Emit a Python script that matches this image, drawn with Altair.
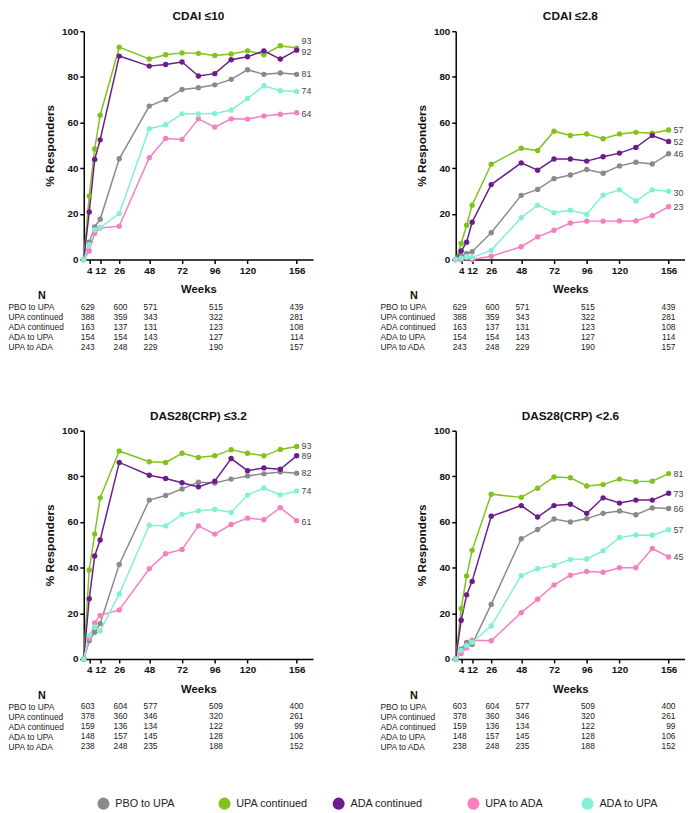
import altair as alt
import pandas as pd

FONT = "Liberation Sans"

weeks = [0, 4, 8, 12, 26, 48, 60, 72, 84, 96, 108, 120, 132, 144, 156]
groups = ["PBO to UPA", "UPA continued", "ADA continued", "UPA to ADA", "ADA to UPA"]
colors = ["#8a8a8a", "#7fc31c", "#6b1d8a", "#f77fc0", "#82f0d5"]
x_ticks = [4, 12, 26, 48, 72, 96, 120, 156]

# legend: labels as printed, and where each entry sits along the legend row (px)
legend_labels = ["PBO to UPA", "UPA continued", "ADA continued", "UPA to  ADA", "ADA to UPA"]
legend_x = [20, 143, 259, 396, 512]

# ---- CDAI <=10
cdai10_pbo = [0, 7.6, 14.3, 17.6, 44.1, 67.2, 70.1, 74.5, 75.2, 76.5, 78.9, 83.1, 81.1, 81.7, 81.1]
cdai10_upa = [0, 27.8, 48.4, 63.2, 93.0, 87.8, 89.7, 90.5, 90.3, 89.4, 90.0, 91.4, 89.7, 93.6, 92.6]
cdai10_ada = [0, 20.8, 43.8, 52.4, 89.1, 84.7, 85.4, 86.5, 80.4, 81.4, 87.5, 88.8, 91.4, 87.8, 91.7]
cdai10_upa_ada = [0, 3.7, 11.5, 13.8, 14.6, 44.6, 53.0, 52.6, 61.6, 58.0, 61.6, 61.5, 62.9, 63.6, 64.3]
cdai10_ada_upa = [0, 6.5, 13.0, 14.0, 20.1, 57.3, 59.0, 63.8, 63.8, 63.9, 65.5, 70.5, 76.1, 73.9, 73.6]
cdai10_end = [81, 93, 92, 64, 74]
cdai10_end_y = [81.1, 95.6, 90.7, 63.9, 73.6]

# ---- CDAI <=2.8
cdai28_pbo = [0, 1.6, 2.6, 3.4, 11.7, 28.1, 30.7, 35.4, 37.0, 39.4, 37.8, 41.0, 42.6, 41.8, 46.3]
cdai28_upa = [0, 7.0, 15.0, 23.8, 41.7, 48.7, 47.7, 56.2, 54.3, 55.0, 52.9, 55.0, 55.7, 55.3, 56.7]
cdai28_ada = [0, 3.7, 7.6, 16.3, 32.8, 42.3, 39.1, 44.0, 44.0, 43.1, 45.0, 46.6, 49.1, 54.3, 51.7]
cdai28_upa_ada = [0, 0.0, 0.7, 0.0, 1.4, 5.6, 9.9, 12.8, 16.0, 16.8, 16.8, 16.9, 16.9, 19.2, 23.1]
cdai28_ada_upa = [0, 0.6, 1.3, 0.9, 4.0, 18.3, 23.8, 20.5, 21.6, 19.8, 28.2, 30.5, 25.6, 30.5, 29.9]
cdai28_end = [46, 57, 52, 23, 30]
cdai28_end_y = [46.3, 56.7, 51.3, 22.8, 29.2]

# ---- DAS28(CRP) <=3.2
das32_pbo = [0, 8.0, 11.7, 15.5, 41.4, 69.6, 71.6, 74.5, 77.4, 77.1, 78.8, 80.2, 81.1, 81.9, 81.4]
das32_upa = [0, 39.0, 54.7, 70.6, 91.1, 86.4, 86.1, 90.1, 88.3, 89.0, 91.7, 90.1, 89.0, 91.8, 93.1]
das32_ada = [0, 26.4, 45.1, 52.1, 86.1, 80.5, 79.1, 77.2, 75.4, 77.9, 87.8, 82.5, 83.7, 83.1, 89.0]
das32_upa_ada = [0, 9.0, 15.8, 19.1, 21.5, 39.5, 46.1, 48.0, 58.3, 54.7, 58.9, 61.7, 61.0, 66.3, 60.6]
das32_ada_upa = [0, 10.3, 14.0, 12.3, 28.5, 58.6, 58.3, 63.3, 64.9, 65.5, 64.2, 71.8, 74.9, 71.9, 73.6]
das32_end = [82, 93, 89, 61, 74]
das32_end_y = [81.4, 93.3, 88.8, 60.2, 73.6]

# ---- DAS28(CRP) <2.6
das26_pbo = [0, 4.3, 7.2, 6.4, 23.9, 52.7, 56.7, 61.3, 60.0, 61.5, 63.8, 64.8, 63.2, 66.2, 65.9]
das26_upa = [0, 22.1, 36.4, 47.6, 72.2, 70.8, 74.8, 79.7, 79.4, 75.8, 76.4, 78.8, 77.7, 77.9, 81.2]
das26_ada = [0, 17.0, 28.1, 34.0, 62.5, 67.2, 62.2, 67.2, 67.8, 63.8, 70.6, 68.3, 69.6, 69.6, 72.6]
das26_upa_ada = [0, 2.4, 4.9, 8.2, 8.0, 20.3, 26.2, 32.4, 36.7, 38.3, 38.0, 40.0, 40.0, 48.4, 44.7]
das26_ada_upa = [0, 3.7, 5.9, 7.3, 14.5, 36.5, 39.5, 41.0, 43.6, 43.8, 47.4, 53.2, 54.3, 54.2, 56.6]
das26_end = [66, 81, 73, 45, 57]
das26_end_y = [65.9, 81.1, 72.3, 44.7, 56.4]

# ---- N at risk tables
table_rows = ["PBO to UPA", "UPA continued", "ADA continued", "ADA to UPA", "UPA to ADA"]
table_cols = [8, 32, 54, 102, 161]  # week positions where the columns end
n_cdai = [
    [629, 600, 571, 515, 439],
    [388, 359, 343, 322, 281],
    [163, 137, 131, 123, 108],
    [154, 154, 143, 127, 114],
    [243, 248, 229, 190, 157],
]
n_das = [
    [603, 604, 577, 509, 400],
    [378, 360, 346, 320, 261],
    [159, 136, 134, 122, 99],
    [148, 157, 145, 128, 106],
    [238, 248, 235, 188, 152],
]

W, H = 233, 232

XSCALE = alt.Scale(domain=[0, 168], nice=False, zero=True)
YSCALE = alt.Scale(domain=[0, 100], nice=False)
CSCALE = alt.Scale(domain=groups, range=colors)
XAXIS = alt.Axis(values=x_ticks, title="Weeks", grid=False, tickSize=4,
                 labelPadding=2, titlePadding=9, labelFontWeight="bold",
                 labelFontSize=10, titleFontSize=11.5, titleFontWeight="bold",
                 labelFlush=False, labelOverlap=False, labelBound=False)
YAXIS = alt.Axis(values=[0, 20, 40, 60, 80, 100], title="% Responders",
                 grid=False, tickSize=4, labelPadding=2, titlePadding=5,
                 labelFontWeight="bold", labelFontSize=10, labelOverlap=False,
                 titleFontSize=12, titleFontWeight="bold")


def panel(title, series, ends, ends_y, counts):
    recs = []
    for g, vals in zip(groups, series):
        for w, v in zip(weeks, vals):
            recs.append({"week": w, "value": v, "group": g})
    df = pd.DataFrame(recs)
    xenc = alt.X("week:Q", scale=XSCALE, axis=XAXIS)
    yenc = alt.Y("value:Q", scale=YSCALE, axis=YAXIS)
    line = alt.Chart(df).mark_line(strokeWidth=1.5).encode(
        x=xenc, y=yenc, color=alt.Color("group:N", scale=CSCALE, legend=None),
    )
    pts = alt.Chart(df).mark_circle(size=30, opacity=1).encode(
        x=xenc, y=yenc, color=alt.Color("group:N", scale=CSCALE, legend=None),
    )
    edf = pd.DataFrame({"week": [156] * len(ends), "value": ends_y, "label": ends})
    txt = alt.Chart(edf).mark_text(align="left", dx=5, fontSize=9, color="#444", font=FONT).encode(
        x=xenc, y=yenc, text="label:N"
    )
    plot = alt.layer(line, pts, txt).properties(
        width=W, height=H,
        title=alt.TitleParams(title, fontSize=12, fontWeight="bold", offset=3, anchor="middle", font=FONT),
    )
    trecs = []
    for r, row in zip(table_rows, counts):
        for c, n in zip(table_cols, row):
            trecs.append({"row": r, "col": c, "n": str(n)})
    tdf = pd.DataFrame(trecs)
    table = alt.Chart(tdf).mark_text(align="right", fontSize=8.5, color="#222", font=FONT).encode(
        x=alt.X("col:Q", scale=XSCALE, axis=None),
        y=alt.Y("row:N", sort=table_rows, scale=alt.Scale(paddingInner=0, paddingOuter=0),
                axis=alt.Axis(title="N", titleAngle=0, titleX=-43, titleY=-6, titleAlign="center",
                              titleBaseline="middle", titleFontSize=11, titleFontWeight="bold",
                              labelAlign="left", labelPadding=77, domain=False, ticks=False,
                              tickSize=0, labelFontSize=8.5, labelColor="#222", labelFont=FONT)),
        text="n:N",
    ).properties(width=W, height=51)
    return alt.vconcat(plot, table, spacing=43, bounds="flush").resolve_scale(
        x="independent", y="independent", color="shared")


p1 = panel("CDAI \u226410", [cdai10_pbo, cdai10_upa, cdai10_ada, cdai10_upa_ada, cdai10_ada_upa],
           cdai10_end, cdai10_end_y, n_cdai)
p2 = panel("CDAI \u22642.8", [cdai28_pbo, cdai28_upa, cdai28_ada, cdai28_upa_ada, cdai28_ada_upa],
           cdai28_end, cdai28_end_y, n_cdai)
p3 = panel("DAS28(CRP) \u22643.2", [das32_pbo, das32_upa, das32_ada, das32_upa_ada, das32_ada_upa],
           das32_end, das32_end_y, n_das)
p4 = panel("DAS28(CRP) <2.6", [das26_pbo, das26_upa, das26_ada, das26_upa_ada, das26_ada_upa],
           das26_end, das26_end_y, n_das)

row1 = alt.hconcat(p1, p2, spacing=68).resolve_scale(x="independent", y="independent", color="shared")
row2 = alt.hconcat(p3, p4, spacing=68).resolve_scale(x="independent", y="independent", color="shared")
grid = alt.vconcat(row1, row2, spacing=59).resolve_scale(x="independent", y="independent", color="shared")

# legend row
ldf = pd.DataFrame({"group": groups, "label": legend_labels, "pos": legend_x})
LX = alt.X("pos:Q", scale=alt.Scale(domain=[0, 600], range=[0, 600], nice=False, zero=True), axis=None)
leg_pts = alt.Chart(ldf).mark_circle(size=150, opacity=1).encode(
    x=LX, y=alt.value(7), color=alt.Color("group:N", scale=CSCALE, legend=None))
leg_txt = alt.Chart(ldf).mark_text(align="left", baseline="middle", dx=12, fontSize=11,
                                   color="#222", font=FONT).encode(
    x=LX, y=alt.value(7), text="label:N")
legend = alt.layer(leg_pts, leg_txt).properties(width=600, height=14)

chart = alt.vconcat(grid, legend, spacing=46).resolve_scale(
    x="independent", y="independent", color="shared"
).properties(padding={"top": -4, "left": 0, "right": 0, "bottom": 0}).configure(
    font=FONT).configure_view(stroke=None).configure_axis(
    domainColor="#000", domainWidth=1.5, tickColor="#000", tickWidth=1.5,
    labelColor="#111", titleColor="#111", labelFont=FONT, titleFont=FONT, labelOverlap=False
).configure_title(color="#111")

chart.save("out.html", embed_options={"renderer": "svg", "actions": False})
